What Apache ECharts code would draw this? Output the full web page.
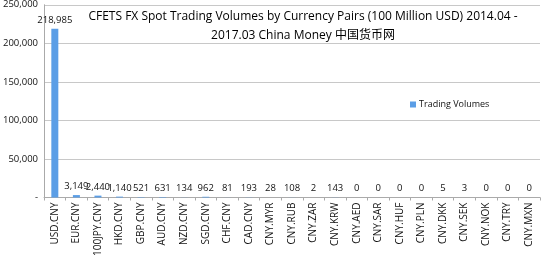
<!DOCTYPE html>
<html><head><meta charset="utf-8">
<script src="https://cdn.jsdelivr.net/npm/echarts@6/dist/echarts.min.js"></script>
<style>html,body{margin:0;padding:0;background:#fff}#c{width:543px;height:259px}</style>
</head><body><div id="c"></div>
<script>
const categories = ["USD.CNY","EUR.CNY","100JPY.CNY","HKD.CNY","GBP.CNY","AUD.CNY","NZD.CNY","SGD.CNY","CHF.CNY","CAD.CNY","CNY.MYR","CNY.RUB","CNY.ZAR","CNY.KRW","CNY.AED","CNY.SAR","CNY.HUF","CNY.PLN","CNY.DKK","CNY.SEK","CNY.NOK","CNY.TRY","CNY.MXN"];
const volumes = [218985,3149,2440,1140,521,631,134,962,81,193,28,108,2,143,0,0,0,0,5,3,0,0,0];
const seriesName = "Trading Volumes";
const titleLines = ["CFETS FX Spot Trading Volumes by Currency Pairs (100 Million USD) 2014.04 -", "2017.03 China Money 中国货币网"];

const font = "'Open Sans', 'Noto Sans CJK SC', sans-serif";
const chart = echarts.init(document.getElementById('c'));
chart.setOption({
  animation: false,
  textStyle: {fontFamily: font},
  title: {
    text: titleLines.join('\n'),
    left: 298, top: 2, textAlign: 'center',
    textStyle: {fontFamily: font, fontSize: 12, fontWeight: 'normal', color: '#000', lineHeight: 19}
  },
  legend: {
    data: [seriesName], left: 405, top: 95,
    itemWidth: 6, itemHeight: 6, itemGap: 4,
    icon: 'rect',
    textStyle: {fontFamily: font, fontSize: 9, color: '#111', padding: [0,0,0,-2]}
  },
  grid: {left: 42, right: 3, top: 4, bottom: 56, containLabel: false},
  xAxis: {
    type: 'category', data: categories,
    axisLine: {lineStyle: {color: '#aaa'}},
    axisTick: {show: true, lineStyle: {color: '#aaa'}, length: 3},
    axisLabel: {rotate: 90, fontSize: 10, color: '#111', margin: 5, interval: 0, fontFamily: font}
  },
  yAxis: {
    type: 'value', min: 0, max: 250000, interval: 50000,
    axisLine: {show: true, lineStyle: {color: '#aaa'}},
    axisTick: {show: false},
    splitLine: {lineStyle: {color: '#c8c8c8'}},
    axisLabel: {fontSize: 9.5, color: '#111', margin: 6, fontFamily: font,
      formatter: v => v === 0 ? '-' : v.toLocaleString('en-US')}
  },
  series: [{
    name: seriesName, type: 'bar', data: volumes, barWidth: 7,
    itemStyle: {color: '#5b9ee6'},
    label: {show: true, position: 'top', fontSize: 9.5, color: '#111', distance: 4, fontFamily: font,
      formatter: p => p.value.toLocaleString('en-US')}
  }]
});
</script></body></html>
